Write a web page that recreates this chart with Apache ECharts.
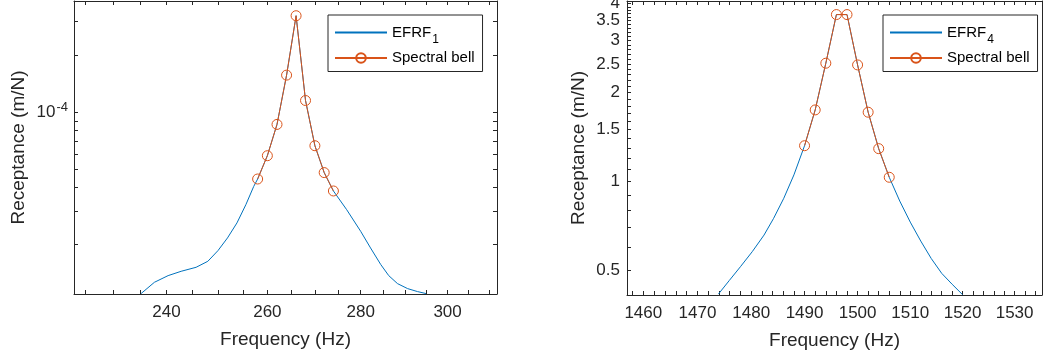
<!DOCTYPE html>
<html>
<head>
<meta charset="utf-8">
<script src="https://cdn.jsdelivr.net/npm/echarts@6/dist/echarts.min.js"></script>
<style>
  html, body { margin: 0; padding: 0; background: #fff; }
  #chart { width: 1044px; height: 360px; }
</style>
</head>
<body>
<div id="chart"></div>
<script>
// left panel: mode 1
const freq1 = [235.2, 237.7, 240.3, 242.8, 245.7, 248.0, 250.0, 251.9, 253.8, 255.6, 257.2, 258, 260, 262, 264, 266, 268, 270, 272, 274, 276.9, 280.0, 282.2, 284.5, 286.3, 288.3, 290.6, 292.9, 294.9]
const efrf1 = [1.106e-5, 1.268e-5, 1.375e-5, 1.449e-5, 1.521e-5, 1.636e-5, 1.862e-5, 2.172e-5, 2.606e-5, 3.251e-5, 4.058e-5, 4.44e-5, 5.89e-5, 8.61e-5, 1.566e-4, 3.22e-4, 1.151e-4, 6.65e-5, 4.80e-5, 3.84e-5, 3.06e-5, 2.353e-5, 1.923e-5, 1.572e-5, 1.375e-5, 1.248e-5, 1.175e-5, 1.133e-5, 1.106e-5]
const bellFreq1 = [258, 260, 262, 264, 266, 268, 270, 272, 274]
const bell1 = [4.44e-5, 5.89e-5, 8.61e-5, 1.566e-4, 3.22e-4, 1.151e-4, 6.65e-5, 4.80e-5, 3.84e-5]

// right panel: mode 4
const freq4 = [1473.9, 1475.9, 1478.0, 1480.2, 1482.4, 1484.2, 1486.1, 1488.0, 1490, 1492, 1494, 1496, 1498, 1500, 1502, 1504, 1506, 1508.0, 1510.0, 1512.0, 1514.0, 1516.0, 1518.0, 1520.0]
const efrf4 = [0.417, 0.463, 0.516, 0.580, 0.660, 0.752, 0.879, 1.054, 1.323, 1.748, 2.514, 3.671, 3.671, 2.481, 1.717, 1.293, 1.035, 0.86, 0.73, 0.63, 0.55, 0.49, 0.45, 0.415]
const bellFreq4 = [1490, 1492, 1494, 1496, 1498, 1500, 1502, 1504, 1506]
const bell4 = [1.323, 1.748, 2.514, 3.671, 3.671, 2.481, 1.717, 1.293, 1.035]

// ticks and labels
const xLabels1 = [240, 260, 280, 300]
const xTicks1 = [225, 230, 235, 240, 245, 250, 255, 260, 265, 270, 275, 280, 285, 290, 295, 300, 305, 310]
const yLabels1 = [1e-4]
const yTicks1 = [2e-5, 3e-5, 4e-5, 5e-5, 6e-5, 7e-5, 8e-5, 9e-5, 1e-4, 2e-4, 3e-4]
const xLabels4 = [1460, 1470, 1480, 1490, 1500, 1510, 1520, 1530]
const xTicks4 = [1458, 1460, 1462, 1464, 1466, 1468, 1470, 1472, 1474, 1476, 1478, 1480, 1482, 1484, 1486, 1488, 1490, 1492, 1494, 1496, 1498, 1500, 1502, 1504, 1506, 1508, 1510, 1512, 1514, 1516, 1518, 1520, 1522, 1524, 1526, 1528, 1530, 1532, 1534]
const yLabels4 = [0.5, 1, 1.5, 2, 2.5, 3, 3.5, 4]
const yTicks4 = [0.5, 0.6, 0.7, 0.8, 0.9, 1, 1.1, 1.2, 1.3, 1.4, 1.5, 1.6, 1.7, 1.8, 1.9, 2, 2.1, 2.2, 2.3, 2.4, 2.5, 2.6, 2.7, 2.8, 2.9, 3, 3.1, 3.2, 3.3, 3.4, 3.5, 3.6, 3.7, 3.8, 3.9, 4]

const BLUE = '#0072BD'
const ORANGE = '#D95319'
const INK = '#262626'
const FONT = '"Liberation Sans", Arial, sans-serif'

const chart = echarts.init(document.getElementById('chart'))

function axis(o) {
  return {
    type: 'log',
    gridIndex: o.grid,
    position: o.position,
    min: o.min,
    max: o.max,
    name: o.name || '',
    nameLocation: 'middle',
    nameGap: o.nameGap || 0,
    nameTextStyle: { fontSize: 19, color: INK, fontFamily: FONT },
    axisLine: { show: true, lineStyle: { color: INK, width: 1 } },
    axisTick: {
      show: o.ticks !== null,
      inside: true,
      length: 4,
      customValues: o.ticks || undefined,
      lineStyle: { color: INK, width: 1 }
    },
    axisLabel: {
      show: !!o.labels,
      customValues: o.labels || undefined,
      margin: o.margin || 8,
      fontSize: 17,
      color: INK,
      fontFamily: FONT,
      formatter: o.formatter || (v => String(+v.toPrecision(6))),
      rich: o.rich
    },
    splitLine: { show: false },
    minorTick: { show: false },
    minorSplitLine: { show: false }
  }
}

const legendRich = {
  sub: { fontSize: 12, color: '#000', fontFamily: FONT, padding: [14, 0, 0, 1] }
}

function legend(left, efrfName) {
  return {
    orient: 'vertical',
    left: left,
    top: 15,
    data: [{ name: efrfName, itemStyle: { opacity: 0 } }, 'Spectral bell'],
    padding: [10, 8, 6, 6],
    itemGap: 5,
    itemWidth: 52,
    itemHeight: 12,
    borderColor: INK,
    borderWidth: 1,
    backgroundColor: '#fff',
    selectedMode: false,
    textStyle: { fontSize: 15, color: '#000', fontFamily: FONT, rich: legendRich },
    formatter: n => n === 'EFRF1' ? 'EFRF{sub|1}' : n === 'EFRF4' ? 'EFRF{sub|4}' : n
  }
}

function bellSeries(xi, yi, fx, fy) {
  return {
    name: 'Spectral bell',
    type: 'line',
    xAxisIndex: xi,
    yAxisIndex: yi,
    data: fx.map((f, i) => [f, fy[i]]),
    symbol: 'circle',
    symbolSize: 10,
    itemStyle: { color: 'rgba(255,255,255,0)', borderColor: ORANGE, borderWidth: 1 },
    lineStyle: { color: ORANGE, width: 1 }
  }
}

function efrfSeries(name, xi, yi, fx, fy) {
  return {
    name: name,
    type: 'line',
    xAxisIndex: xi,
    yAxisIndex: yi,
    data: fx.map((f, i) => [f, fy[i]]),
    symbol: 'none',
    lineStyle: { color: BLUE, width: 1 },
    itemStyle: { color: BLUE },
    clip: true
  }
}

chart.setOption({
  animation: false,
  textStyle: { fontFamily: FONT },
  grid: [
    { left: 74, top: 1, width: 423, height: 293, outerBoundsMode: 'none' },
    { left: 627, top: 1, width: 415, height: 294, outerBoundsMode: 'none' }
  ],
  legend: [
    legend(328, 'EFRF1'),
    legend(883, 'EFRF4')
  ],
  xAxis: [
    axis({ grid: 0, position: 'bottom', min: 223, max: 312, ticks: xTicks1, labels: xLabels1, name: 'Frequency (Hz)', nameGap: 36, margin: 10 }),
    axis({ grid: 0, position: 'top', min: 223, max: 312, ticks: xTicks1 }),
    axis({ grid: 1, position: 'bottom', min: 1457, max: 1535.3, ticks: xTicks4, labels: xLabels4, name: 'Frequency (Hz)', nameGap: 36, margin: 10 }),
    axis({ grid: 1, position: 'top', min: 1457, max: 1535.3, ticks: xTicks4 })
  ],
  yAxis: [
    axis({
      grid: 0, position: 'left', min: 1.1e-5, max: 3.85e-4, ticks: yTicks1, labels: yLabels1,
      name: 'Receptance (m/N)', nameGap: 46, margin: 6,
      formatter: v => '10{sup|-4}',
      rich: { sup: { fontSize: 13, color: INK, fontFamily: FONT, padding: [0, 0, 10, 1] } }
    }),
    axis({ grid: 0, position: 'right', min: 1.1e-5, max: 3.85e-4, ticks: yTicks1 }),
    axis({
      grid: 1, position: 'left', min: 0.414, max: 4.08, ticks: yTicks4, labels: yLabels4,
      name: 'Receptance (m/N)', nameGap: 39, margin: 7
    }),
    axis({ grid: 1, position: 'right', min: 0.414, max: 4.08, ticks: null })
  ],
  series: [
    efrfSeries('EFRF1', 0, 0, freq1, efrf1),
    bellSeries(0, 0, bellFreq1, bell1),
    efrfSeries('EFRF4', 2, 2, freq4, efrf4),
    bellSeries(2, 2, bellFreq4, bell4)
  ]
})
</script>
</body>
</html>
